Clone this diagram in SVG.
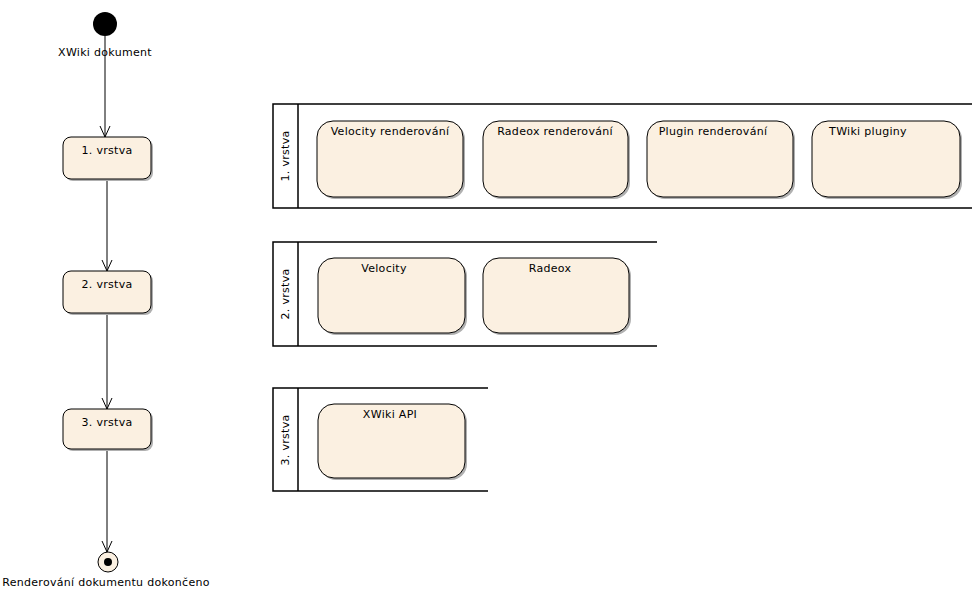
<svg xmlns="http://www.w3.org/2000/svg" width="972" height="590" viewBox="0 0 972 590">
<style>
  text { font-family: "DejaVu Sans", "Liberation Sans", sans-serif; font-size: 11px; fill: #000; letter-spacing: 0.3px; }
  .act { fill: #FBF0E1; stroke: #000; stroke-width: 1; }
  .shadow { fill: #B0B0B0; stroke: none; }
  .lane { fill: none; stroke: #000; stroke-width: 1.5; }
  .edge { fill: none; stroke: #000; stroke-width: 1; }
</style>
<defs>
  <marker id="open" viewBox="0 0 12 12" refX="11" refY="6" markerWidth="12" markerHeight="12" markerUnits="userSpaceOnUse" orient="auto">
    <path d="M0,1 L11,6 L0,11" fill="none" stroke="#000" stroke-width="1"/>
  </marker>
</defs>
<rect width="972" height="590" fill="#fff"/>

<g id="connectors">
  <line class="edge" x1="105" y1="36" x2="105" y2="137" marker-end="url(#open)"/>
  <line class="edge" x1="107" y1="179" x2="107" y2="271" marker-end="url(#open)"/>
  <line class="edge" x1="107" y1="313" x2="107" y2="409" marker-end="url(#open)"/>
  <line class="edge" x1="107" y1="451" x2="107" y2="552" marker-end="url(#open)"/>
</g>

<g id="start">
  <circle cx="105" cy="24" r="12" fill="#000"/>
  <text x="105" y="56" text-anchor="middle">XWiki dokument</text>
</g>

<g id="v1">
  <rect class="shadow" x="65" y="139" width="88" height="42" rx="8"/>
  <rect class="act" x="63" y="137" width="88" height="42" rx="8"/>
  <text x="107" y="154" text-anchor="middle">1. vrstva</text>
</g>
<g id="v2">
  <rect class="shadow" x="65" y="273" width="88" height="42" rx="8"/>
  <rect class="act" x="63" y="271" width="88" height="42" rx="8"/>
  <text x="107" y="288" text-anchor="middle">2. vrstva</text>
</g>
<g id="v3">
  <rect class="shadow" x="65" y="411" width="88" height="40" rx="8"/>
  <rect class="act" x="63" y="409" width="88" height="40" rx="8"/>
  <text x="107" y="426" text-anchor="middle">3. vrstva</text>
</g>

<g id="end">
  <circle cx="108" cy="562" r="10" fill="#FBF0E1" stroke="#000" stroke-width="1"/>
  <circle cx="108" cy="562" r="4" fill="#000"/>
  <text x="106" y="586" text-anchor="middle">Renderování dokumentu dokončeno</text>
</g>

<g id="lane1">
  <path class="lane" d="M972,104 H273 V208 H972 M298,104 V208"/>
  <text transform="translate(289,156) rotate(-90)" text-anchor="middle">1. vrstva</text>
</g>
<g id="lane2">
  <path class="lane" d="M657,242 H273 V346 H657 M298,242 V346"/>
  <text transform="translate(289,294) rotate(-90)" text-anchor="middle">2. vrstva</text>
</g>
<g id="lane3">
  <path class="lane" d="M488,388 H273 V491 H488 M298,388 V491"/>
  <text transform="translate(289,440) rotate(-90)" text-anchor="middle">3. vrstva</text>
</g>

<g id="velocity-r">
  <rect class="shadow" x="319" y="123" width="146" height="76" rx="16"/>
  <rect class="act" x="317" y="121" width="146" height="76" rx="16"/>
  <text x="390" y="135" text-anchor="middle">Velocity renderování</text>
</g>
<g id="radeox-r">
  <rect class="shadow" x="485" y="123" width="145" height="76" rx="16"/>
  <rect class="act" x="483" y="121" width="145" height="76" rx="16"/>
  <text x="555" y="135" text-anchor="middle">Radeox renderování</text>
</g>
<g id="plugin-r">
  <rect class="shadow" x="649" y="123" width="146" height="76" rx="16"/>
  <rect class="act" x="647" y="121" width="146" height="76" rx="16"/>
  <text x="713" y="135" text-anchor="middle">Plugin renderování</text>
</g>
<g id="twiki">
  <rect class="shadow" x="814" y="123" width="148" height="76" rx="16"/>
  <rect class="act" x="812" y="121" width="148" height="76" rx="16"/>
  <text x="868" y="135" text-anchor="middle">TWiki pluginy</text>
</g>

<g id="velocity">
  <rect class="shadow" x="320" y="260" width="147" height="75" rx="16"/>
  <rect class="act" x="318" y="258" width="147" height="75" rx="16"/>
  <text x="384" y="272" text-anchor="middle">Velocity</text>
</g>
<g id="radeox">
  <rect class="shadow" x="485" y="260" width="146" height="75" rx="16"/>
  <rect class="act" x="483" y="258" width="146" height="75" rx="16"/>
  <text x="550" y="272" text-anchor="middle">Radeox</text>
</g>

<g id="xwiki-api">
  <rect class="shadow" x="320" y="406" width="147" height="74" rx="16"/>
  <rect class="act" x="318" y="404" width="147" height="74" rx="16"/>
  <text x="390" y="418" text-anchor="middle">XWiki API</text>
</g>
</svg>
